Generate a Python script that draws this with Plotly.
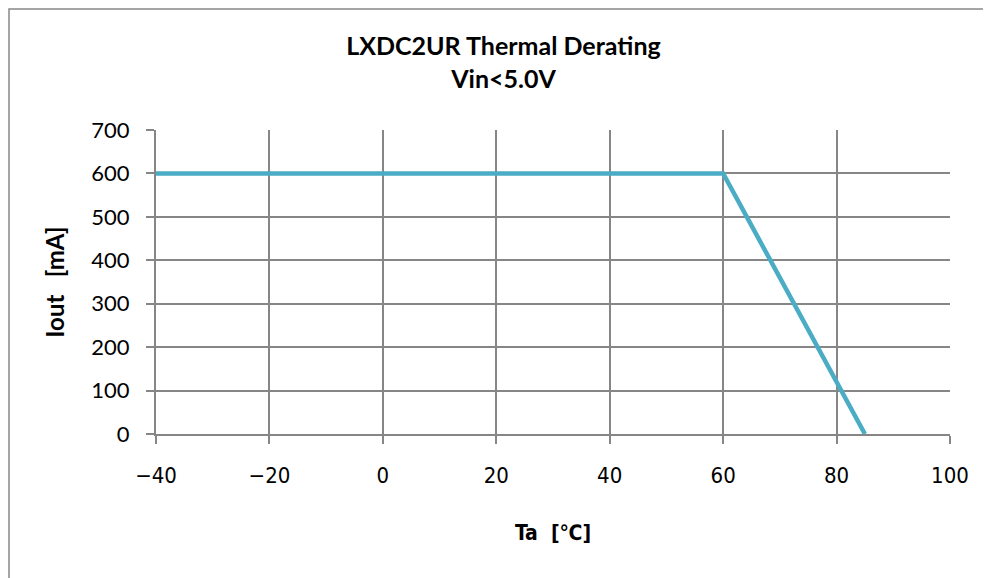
import plotly.graph_objects as go

ta = [-40, 60, 85]
iout = [600, 600, 0]
x_ticks = [-40, -20, 0, 20, 40, 60, 80, 100]
x_tick_labels = ["−40", "−20", "0", "20", "40", "60", "80", "100"]
y_ticks = [0, 100, 200, 300, 400, 500, 600, 700]

grid = "#868686"
L, R, T, B = 148, 49, 122, 152
PW, PH = 991 - L - R, 578 - T - B

fig = go.Figure()
fig.add_trace(go.Scatter(x=ta, y=iout, mode="lines",
                         line=dict(color="#4BACC6", width=4.5), showlegend=False))

fig.update_layout(
    width=991, height=578,
    margin=dict(l=L, r=R, t=T, b=B),
    paper_bgcolor="white", plot_bgcolor="white",
    font=dict(family="Lato, Open Sans, sans-serif", color="black"),
    title=dict(text="<b>LXDC2UR Thermal Derating<br>Vin<5.0V</b>",
               x=0.5, xanchor="center", y=1 - 47 / 578, yanchor="middle",
               font=dict(size=25, family="Lato, sans-serif")),
)
fig.update_xaxes(range=[-40, 100], tickvals=x_ticks, ticktext=x_tick_labels,
                 showgrid=True, gridcolor=grid, gridwidth=2,
                 showline=True, linecolor=grid, linewidth=2,
                 ticks="outside", ticklen=8, tickcolor=grid, tickwidth=2,
                 ticklabelstandoff=13, zeroline=False,
                 tickfont=dict(size=22, family="DejaVu Sans Condensed, DejaVu Sans, sans-serif"),
                 title=dict(text="<b>Ta\u00a0\u00a0[℃]</b>", standoff=38,
                            font=dict(size=21, family="DejaVu Sans Condensed, DejaVu Sans, sans-serif")))
fig.update_yaxes(range=[0, 700], tickvals=y_ticks,
                 showgrid=True, gridcolor=grid, gridwidth=2,
                 showline=True, linecolor=grid, linewidth=2,
                 ticks="outside", ticklen=8, tickcolor=grid, tickwidth=2,
                 ticklabelstandoff=12, zeroline=False,
                 tickfont=dict(size=22),
                 title=dict(text="<b>Iout\u00a0\u00a0\u00a0[mA]</b>", font=dict(size=24), standoff=20))

fig.add_shape(type="rect", xref="paper", yref="paper",
              x0=-(L - 1) / PW, x1=1.2, y0=-0.8, y1=1 + (T - 1) / PH,
              line=dict(color="#888888", width=1.5), fillcolor="rgba(0,0,0,0)", layer="below")

fig.write_html("out.html")
